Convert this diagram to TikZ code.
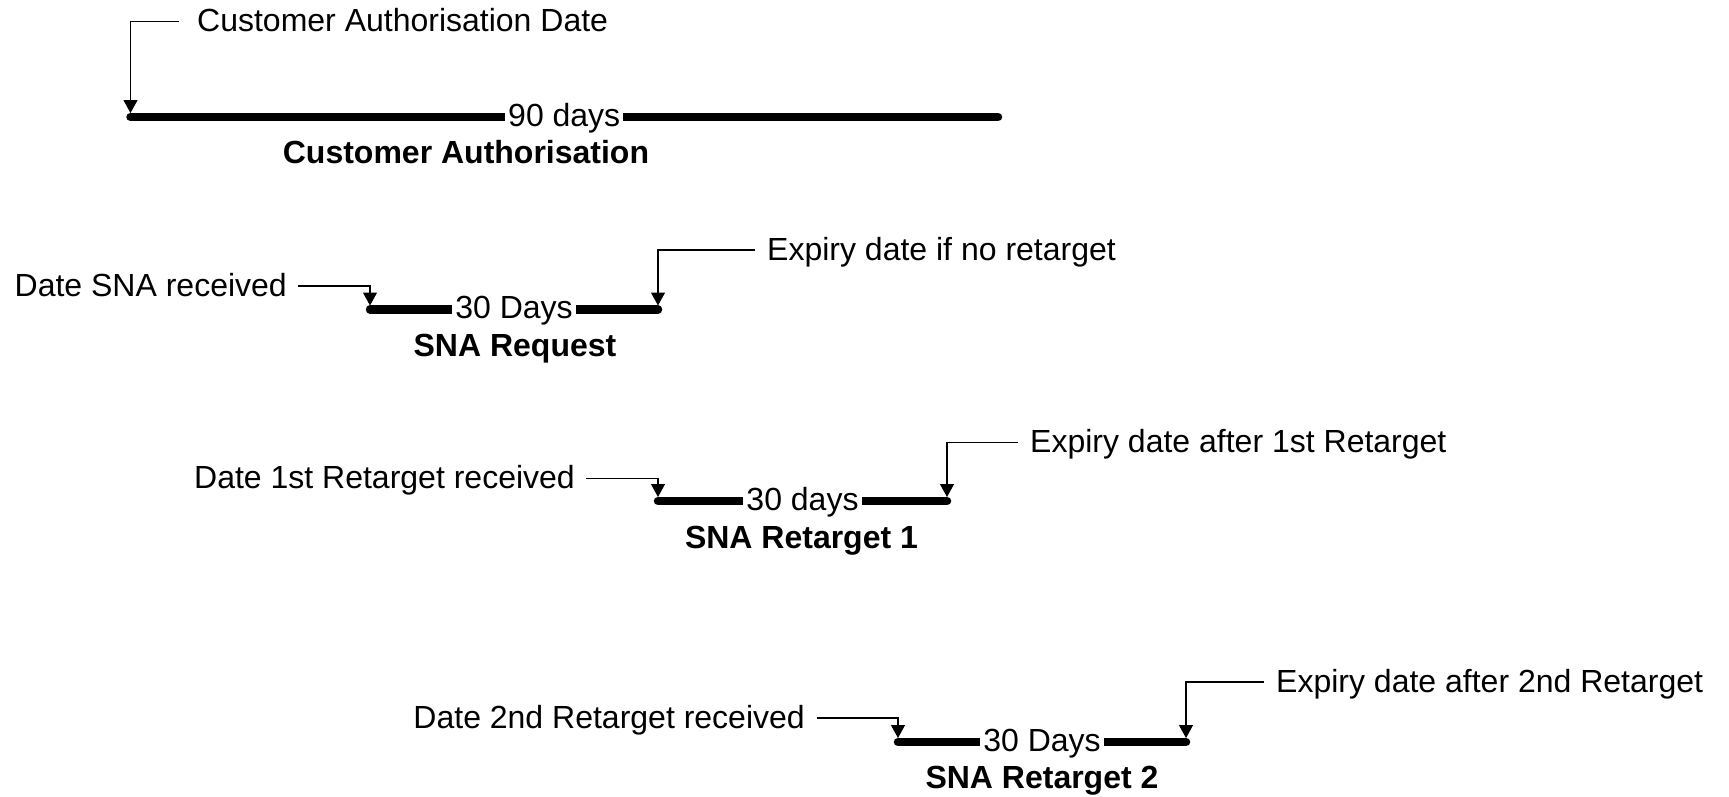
\documentclass[tikz,border=0pt]{standalone}
\usepackage{fontspec}
\setmainfont{Liberation Sans}
\usetikzlibrary{arrows.meta}
\begin{document}
\begin{tikzpicture}[x=1pt,y=-1pt,
  bar/.style={line width=8.5pt, line cap=round},
  callout/.style={line width=1.2pt, -{Triangle[width=14pt,length=13pt]}},
  lab/.style={font=\fontsize{32}{38}\selectfont, inner sep=0pt, text height=20pt, text depth=0pt},
  dur/.style={font=\fontsize{32}{38}\selectfont, fill=white, inner xsep=3pt, inner ysep=0pt, text height=22pt, text depth=4pt},
  titlelab/.style={font=\fontsize{32}{38}\selectfont\bfseries, inner sep=0pt, anchor=base}]
\useasboundingbox (0,0) rectangle (1729,796);

% Row 1
\coordinate (s1) at (130.5,117);
\coordinate (e1) at (998,117);
\coordinate (a1) at (130.5,113);
\draw[bar] (s1) -- (e1);
\path (s1) -- node[dur] (d1) {90 days} (e1);
\node[titlelab] (b1) at (466,163) {Customer Authorisation};
\node[lab, anchor=west] (t1) at (197,21.5) {Customer Authorisation Date};
\draw[callout] ([xshift=-18pt]t1.west) -| (a1);

% Row 2
\coordinate (s2) at (370,309.5);
\coordinate (e2) at (658,309.5);
\coordinate (a2l) at (370,305.5);
\coordinate (a2r) at (658,305.5);
\draw[bar] (s2) -- (e2);
\path (s2) -- node[dur] (d2) {30 Days} (e2);
\node[titlelab] (b2) at (515,356) {SNA Request};
\node[lab, anchor=east] (l2) at (287,286) {Date SNA received};
\node[lab, anchor=west] (r2) at (767,250) {Expiry date if no retarget};
\draw[callout] ([xshift=11pt]l2.east) -| (a2l);
\draw[callout] ([xshift=-12pt]r2.west) -| (a2r);

% Row 3
\coordinate (s3) at (658,501);
\coordinate (e3) at (947,501);
\coordinate (a3l) at (658,497);
\coordinate (a3r) at (947,497);
\draw[bar] (s3) -- (e3);
\path (s3) -- node[dur] (d3) {30 days} (e3);
\node[titlelab] (b3) at (801.5,548) {SNA Retarget 1};
\node[lab, anchor=east] (l3) at (575,478.3) {Date 1st Retarget received};
\node[lab, anchor=west] (r3) at (1030,442.7) {Expiry date after 1st Retarget};
\draw[callout] ([xshift=11pt]l3.east) -| (a3l);
\draw[callout] ([xshift=-12pt]r3.west) -| (a3r);

% Row 4
\coordinate (s4) at (898,742);
\coordinate (e4) at (1186,742);
\coordinate (a4l) at (898,738);
\coordinate (a4r) at (1186,738);
\draw[bar] (s4) -- (e4);
\path (s4) -- node[dur] (d4) {30 Days} (e4);
\node[titlelab] (b4) at (1042,788) {SNA Retarget 2};
\node[lab, anchor=east] (l4) at (805,718) {Date 2nd Retarget received};
\node[lab, anchor=west] (r4) at (1276,682) {Expiry date after 2nd Retarget};
\draw[callout] ([xshift=12pt]l4.east) -| (a4l);
\draw[callout] ([xshift=-12pt]r4.west) -| (a4r);
\end{tikzpicture}
\end{document}
